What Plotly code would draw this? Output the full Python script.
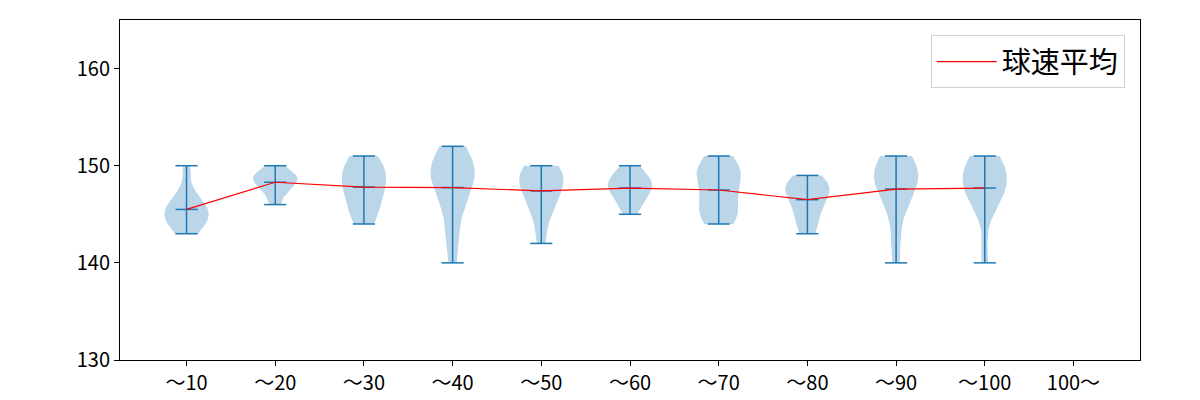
import numpy as np
import plotly.graph_objects as go

categories = ["〜10", "〜20", "〜30", "〜40", "〜50", "〜60", "〜70", "〜80", "〜90", "〜100", "100〜"]

s10 = [143, 144, 144, 145, 145, 145, 146, 146, 147, 150]
s20 = [146, 147, 148, 148, 148, 149, 149, 149, 149, 150]
s30 = [144, 145, 146, 147, 148, 148, 149, 150, 150, 151]
s40 = [140, 143, 145, 147, 148, 149, 149, 149, 150, 150, 151, 152]
s50 = [142, 145, 146, 147, 148, 148, 149, 149, 150, 150]
s60 = [145, 146, 147, 147, 148, 148, 148, 149, 149, 150]
s70 = [144, 145, 145, 146, 147, 149, 149, 149, 150, 151]
s80 = [143, 144, 145, 146, 147, 147, 148, 148, 148, 149]
s90 = [140, 144, 147, 148, 148, 149, 149, 150, 150, 151]
s100 = [140, 146, 147, 147, 148, 149, 149, 150, 150, 151]
s100plus = []

samples = [s10, s20, s30, s40, s50, s60, s70, s80, s90, s100, s100plus]

yticks = [130, 140, 150, 160]

C0 = "#1f77b4"
FONT = "Noto Sans CJK JP"


def kde(data, pts):
    d = np.asarray(data, float)
    n = d.size
    bw = n ** (-1.0 / 5.0) * d.std(ddof=1)
    z = (pts[:, None] - d[None, :]) / bw
    return np.exp(-0.5 * z ** 2).sum(axis=1) / (n * bw * np.sqrt(2 * np.pi))


fig = go.Figure()

line_x, line_y = [], []
mean_x, mean_y = [], []
for i, s in enumerate(samples):
    pos = i + 1
    if len(s) == 0:
        continue
    arr = np.asarray(s, float)
    lo, hi, mu = arr.min(), arr.max(), arr.mean()
    ys = np.linspace(lo, hi, 100)
    dens = kde(arr, ys)
    half = 0.25 * dens / dens.max()
    xs = np.concatenate([pos - half, (pos + half)[::-1]])
    yy = np.concatenate([ys, ys[::-1]])
    fig.add_trace(go.Scatter(x=xs, y=yy, mode="lines", fill="toself",
                             fillcolor="rgba(31,119,180,0.3)", line=dict(width=0),
                             hoverinfo="skip", showlegend=False))
    line_x += [pos, pos, None]
    line_y += [lo, hi, None]
    for v in (lo, hi, mu):
        line_x += [pos - 0.125, pos + 0.125, None]
        line_y += [v, v, None]
    mean_x.append(pos)
    mean_y.append(mu)

fig.add_trace(go.Scatter(x=line_x, y=line_y, mode="lines",
                         line=dict(color=C0, width=1.5), hoverinfo="skip",
                         showlegend=False))

fig.add_trace(go.Scatter(x=mean_x, y=mean_y, mode="lines", name="球速平均",
                         line=dict(color="red", width=1.2)))

fig.update_layout(
    width=1200, height=400,
    margin=dict(l=120, r=60, t=20, b=40),
    plot_bgcolor="white", paper_bgcolor="white",
    font=dict(family=FONT, size=20, color="black"),
    legend=dict(x=0.985, y=0.955, xanchor="right", yanchor="top",
                bordercolor="#d0d0d0", borderwidth=1, bgcolor="white",
                font=dict(size=29, family=FONT), itemwidth=60),
    xaxis=dict(range=[0.25, 11.75], tickvals=list(range(1, len(categories) + 1)),
               ticktext=categories, showgrid=False, zeroline=False,
               showline=True, linecolor="black", linewidth=1, mirror=True,
               ticks="outside", ticklen=5, tickcolor="black", automargin=False),
    yaxis=dict(range=[130, 165], tickvals=yticks, showgrid=False, zeroline=False,
               showline=True, linecolor="black", linewidth=1, mirror=True,
               ticks="outside", ticklen=5, tickcolor="black", automargin=False),
)

fig.write_html("out.html")
